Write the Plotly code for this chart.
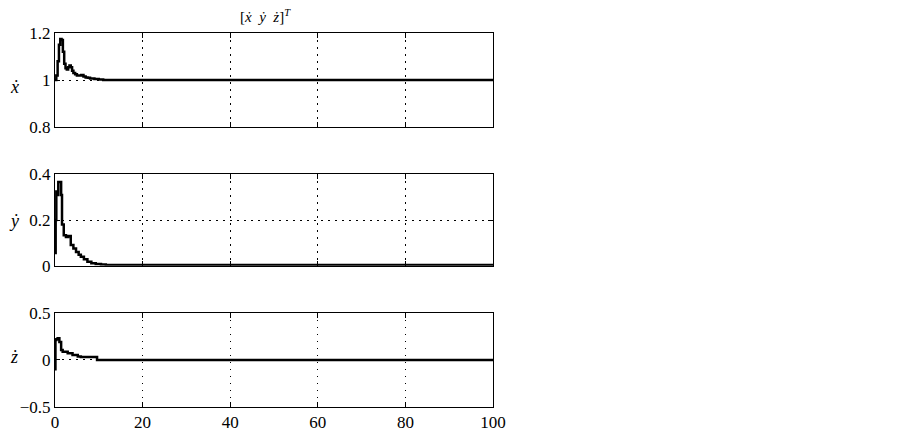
import plotly.graph_objects as go
from plotly.subplots import make_subplots

# ===== datos =====
t_x = [0, 0.3, 0.6, 0.9, 1.2, 1.5, 1.8, 2.1, 2.4, 2.7, 3.0, 3.3, 3.6, 3.9, 4.2,
       4.6, 5.0, 5.5, 6.0, 6.5, 7.0, 7.5, 8.0, 9.0, 10.0, 11.0, 100]
x_dot = [1.0, 1.02, 1.08, 1.15, 1.175, 1.17, 1.12, 1.07, 1.05, 1.045, 1.055, 1.062, 1.055,
         1.04, 1.03, 1.025, 1.02, 1.02, 1.022, 1.015, 1.011, 1.01, 1.007, 1.005, 1.003, 1.0, 1.0]

t_y = [0, 0.15, 0.3, 0.6, 0.75, 1.2, 1.4, 1.6, 2.0, 2.5, 3.0, 3.3, 3.6, 4.2, 4.8,
       5.4, 5.9, 6.6, 7.4, 8.3, 9.3, 10.5, 11.6, 100]
y_dot = [0.055, 0.2, 0.325, 0.31, 0.366, 0.366, 0.31, 0.18, 0.133, 0.125, 0.13, 0.13, 0.09,
         0.075, 0.06, 0.048, 0.039, 0.028, 0.017, 0.011, 0.007, 0.005, 0.003, 0.003]

t_z = [0, 0.1, 0.3, 0.6, 1.0, 1.4, 1.75, 2.9, 4.0, 5.2, 5.9, 9.6, 100]
z_dot = [-0.1, 0.21, 0.22, 0.23, 0.19, 0.104, 0.087, 0.07, 0.052, 0.035, 0.03, 0.0, 0.0]

x_ticks = [0, 20, 40, 60, 80, 100]
ticks_x_dot = [0.8, 1.0, 1.2]
labels_x_dot = ["0.8", "1", "1.2"]
ticks_y_dot = [0, 0.2, 0.4]
labels_y_dot = ["0", "0.2", "0.4"]
ticks_z_dot = [-0.5, 0, 0.5]
labels_z_dot = ["\u22120.5", "0", "0.5"]

FONT = "Times New Roman, Liberation Serif, serif"
W, H = 903, 436
OFF = 8      # margen del body en la pagina
KY = 0.984   # la captura sale un poco comprimida en vertical

def fy(py):
    # pixel de la referencia -> pixel dentro de la figura
    return py / KY - OFF

L, R = 54 - OFF, 493 - OFF
T, B = fy(32), fy(413)

def dom(top_px, bot_px):
    return [(B - fy(bot_px)) / (B - T), (B - fy(top_px)) / (B - T)]

def py_paper(py):
    return (B - fy(py)) / (B - T)

fig = make_subplots(rows=3, cols=1, shared_xaxes=False)

series = [
    (t_x, x_dot, ticks_x_dot, labels_x_dot, [0.8, 1.2], dom(32, 128)),
    (t_y, y_dot, ticks_y_dot, labels_y_dot, [0, 0.4], dom(176, 269)),
    (t_z, z_dot, ticks_z_dot, labels_z_dot, [-0.5, 0.5], dom(317, 413)),
]

for i, (tt, vv, tv, tl, rng, d) in enumerate(series, start=1):
    fig.add_trace(go.Scatter(x=tt, y=vv, mode="lines", line_shape="hv",
                             line=dict(color="black", width=2.5),
                             showlegend=False), row=i, col=1)
    axis_common = dict(showline=True, linecolor="black", linewidth=1, mirror="ticks",
                       ticks="inside", ticklen=5, tickcolor="black",
                       showgrid=True, gridcolor="black", griddash="1.5px,5.5px", gridwidth=1,
                       zeroline=False, tickfont=dict(family=FONT, size=17, color="black"))
    fig.update_xaxes(**axis_common, range=[0, 100], tickvals=x_ticks,
                     showticklabels=(i == 3), row=i, col=1)
    fig.update_yaxes(**axis_common, range=rng, tickvals=tv, ticktext=tl,
                     domain=d, row=i, col=1)

# etiquetas de eje y titulo
for name, py in [("\u1e8b", 87), ("\u1e8f", 224), ("\u017c", 362)]:
    fig.add_annotation(text="<i>%s</i>" % name, xref="paper", yref="paper",
                       x=(13 - OFF - L) / (R - L), y=py_paper(py),
                       xanchor="center", yanchor="middle", showarrow=False,
                       font=dict(family=FONT, size=18, color="black"))

fig.add_annotation(text="[<i>\u1e8b</i>  <i>\u1e8f</i>  <i>\u017c</i>]<sup><i>T</i></sup>",
                   xref="paper", yref="paper", x=(265 - OFF - L) / (R - L),
                   y=py_paper(15), xanchor="center", yanchor="middle",
                   showarrow=False, font=dict(family=FONT, size=15, color="black"))

fig.update_layout(
    width=W, height=H, autosize=False,
    margin=dict(l=L, r=W - R, t=T, b=H - B),
    paper_bgcolor="white", plot_bgcolor="white",
    font=dict(family=FONT, color="black"),
)

fig.write_html("out.html")
